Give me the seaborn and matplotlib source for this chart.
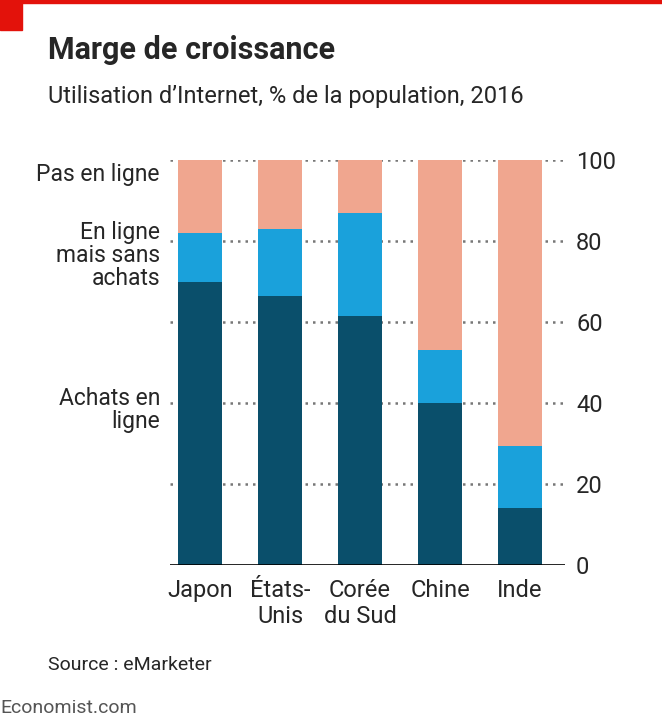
import matplotlib
matplotlib.use("Agg")
import matplotlib.pyplot as plt
import seaborn as sns
import pandas as pd

countries = ["Japon", "États-\nUnis", "Corée\ndu Sud", "Chine", "Inde"]
achats = [70, 66.5, 61.5, 40, 14]
en_ligne_sans = [12, 16.5, 25.5, 13, 15.5]
pas_en_ligne = [18, 17, 13, 47, 70.5]

sns.set_theme(style="white")
plt.rcParams['font.family'] = ['Roboto', 'DejaVu Sans']

df = pd.DataFrame({"c": countries,
                   "tot": [a + b + c for a, b, c in zip(achats, en_ligne_sans, pas_en_ligne)],
                   "mid": [a + b for a, b in zip(achats, en_ligne_sans)],
                   "low": achats})

fig = plt.figure(figsize=(6.62, 7.2), dpi=100)
ax = fig.add_axes([170/662, 1-565/720, 395/662, 405/720])
for col, colr in [("tot", "#f0a68f"), ("mid", "#1aa1db"), ("low", "#0a4f6b")]:
    sns.barplot(data=df, x="c", y=col, color=colr, width=0.55, ax=ax, saturation=1,
                zorder=2, linewidth=0, edgecolor="none")
ax.set_xlim(-0.375, 4.5625)
ax.set_ylim(0, 100)
for v in [20, 40, 60, 80, 100]:
    ax.axhline(v, color="#777777", ls=(0, (1, 2)), lw=1.8, zorder=1)
ax.axhline(0, color="black", lw=1.2, zorder=3)
ax.yaxis.tick_right()
ax.set_yticks([0, 20, 40, 60, 80, 100])
ax.tick_params(axis="y", length=0, labelsize=17, pad=8)
ax.tick_params(axis="x", length=0, labelsize=17, pad=10)
ax.set_xlabel(""); ax.set_ylabel("")
for s in ax.spines.values():
    s.set_visible(False)
for lab in ax.get_xticklabels():
    lab.set_verticalalignment("top")

fig.add_artist(plt.Rectangle((0, 1-3/720), 1, 3/720, color="#e3120b", transform=fig.transFigure))
fig.add_artist(plt.Rectangle((0, 1-30/720), 22/662, 30/720, color="#e3120b", transform=fig.transFigure))
fig.text(48/662, 1-50/720, "Marge de croissance", fontsize=22, fontweight="bold", va="center")
fig.text(48/662, 1-96/720, "Utilisation d’Internet, % de la population, 2016", fontsize=17, va="center")
for txt, y in [("Pas en ligne", 175), ("En ligne\nmais sans\nachats", 255), ("Achats en\nligne", 410)]:
    fig.text(160/662, 1-y/720, txt, fontsize=16.5, ha="right", va="center", linespacing=1.0)
fig.text(48/662, 1-665/720, "Source : eMarketer", fontsize=14, va="center")
fig.text(0, 1-708/720, "Economist.com", fontsize=14, va="center", color="#555555")
fig.savefig("out.png", dpi=100)
